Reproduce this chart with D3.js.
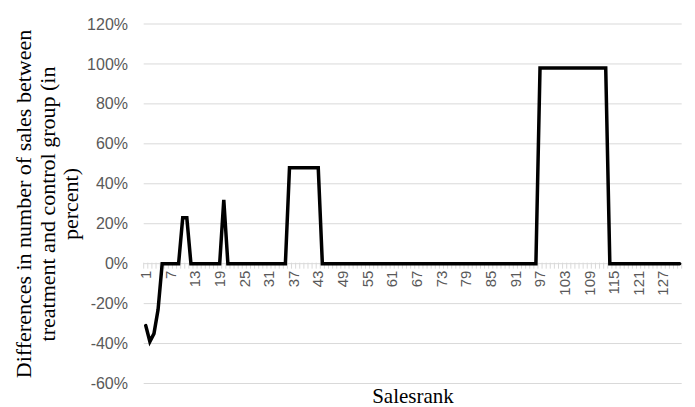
<!DOCTYPE html>
<html>
<head>
<meta charset="utf-8">
<script src="https://cdn.jsdelivr.net/npm/d3@7"></script>
<style>
html,body{margin:0;padding:0;background:#fff;}
svg{display:block;}
</style>
</head>
<body>
<svg id="chart" width="695" height="407"></svg>
<script>
// Sales rank categories 1..131
const salesranks = d3.range(1, 132);
// Differences in % between treatment and control group, per salesrank
const differences = [
  -31, -39, -35, -23, 0, 0, 0, 0, 0, 23,
  23, 0, 0, 0, 0, 0, 0, 0, 0, 32,
  0, 0, 0, 0, 0, 0, 0, 0, 0, 0,
  0, 0, 0, 0, 0, 48, 48, 48, 48, 48,
  48, 48, 48, 0, 0, 0, 0, 0, 0, 0,
  0, 0, 0, 0, 0, 0, 0, 0, 0, 0,
  0, 0, 0, 0, 0, 0, 0, 0, 0, 0,
  0, 0, 0, 0, 0, 0, 0, 0, 0, 0,
  0, 0, 0, 0, 0, 0, 0, 0, 0, 0,
  0, 0, 0, 0, 0, 0, 98, 98, 98, 98,
  98, 98, 98, 98, 98, 98, 98, 98, 98, 98,
  98, 98, 98, 0, 0, 0, 0, 0, 0, 0,
  0, 0, 0, 0, 0, 0, 0, 0, 0, 0,
  0
];
const yTicks = [-60, -40, -20, 0, 20, 40, 60, 80, 100, 120];
const xTickLabels = [1, 7, 13, 19, 25, 31, 37, 43, 49, 55, 61, 67, 73, 79, 85, 91, 97, 103, 109, 115, 121, 127];
const yTitleLines = ["Differences in number of sales between", "treatment and control group (in", "percent)"];
const xTitle = "Salesrank";

(function () {
const svg = d3.select("#chart");
const pLeft = 143.7, pRight = 681.7, pTop = 24, pBottom = 383.5;

const x = d3.scaleBand().domain(salesranks).range([pLeft, pRight]).paddingInner(0).paddingOuter(0);
const y = d3.scaleLinear().domain([-60, 120]).range([pBottom, pTop]);
const cx = d => x(d) + x.bandwidth() / 2;

const labelFont = "Liberation Sans, Arial, sans-serif";
const grey = "#595959";

// gridlines
svg.append("g").selectAll("line").data(yTicks.filter(t => t !== 0)).join("line")
  .attr("x1", pLeft).attr("x2", pRight)
  .attr("y1", d => y(d)).attr("y2", d => y(d))
  .attr("stroke", "#d9d9d9").attr("stroke-width", 1);

// y tick labels
svg.append("g").selectAll("text").data(yTicks).join("text")
  .attr("x", 128).attr("y", d => y(d))
  .attr("dy", "0.35em")
  .attr("text-anchor", "end")
  .attr("font-family", labelFont).attr("font-size", 16)
  .attr("fill", grey)
  .text(d => d + "%");

// category axis at 0
const y0 = y(0);
svg.append("line").attr("x1", pLeft).attr("x2", pRight).attr("y1", y0).attr("y2", y0)
  .attr("stroke", "#d9d9d9").attr("stroke-width", 1);
const boundaries = salesranks.map(d => x(d)).concat([pRight]);
svg.append("g").selectAll("line").data(boundaries).join("line")
  .attr("x1", d => d).attr("x2", d => d)
  .attr("y1", y0 - 1).attr("y2", y0 + 5)
  .attr("stroke", "#d9d9d9").attr("stroke-width", 1);

// x tick labels (rotated)
svg.append("g").selectAll("text").data(xTickLabels).join("text")
  .attr("transform", d => `translate(${cx(d)},${y0 + 7}) rotate(-90)`)
  .attr("dy", "0.35em")
  .attr("text-anchor", "end")
  .attr("font-family", labelFont).attr("font-size", 15)
  .attr("fill", grey)
  .text(d => d);

// data line
const line = d3.line().x((d, i) => cx(salesranks[i])).y(d => y(d));
svg.append("path").datum(differences)
  .attr("d", line)
  .attr("fill", "none").attr("stroke", "#000").attr("stroke-width", 3.5)
  .attr("stroke-linejoin", "miter").attr("stroke-linecap", "round");

// y title
const serif = "Liberation Serif, Times New Roman, serif";
const yt = svg.append("text")
  .attr("transform", "translate(31,204) rotate(-90)")
  .attr("text-anchor", "middle")
  .attr("font-family", serif).attr("font-size", 22)
  .attr("fill", "#000");
yt.selectAll("tspan").data(yTitleLines).join("tspan")
  .attr("x", 0).attr("dy", (d, i) => i === 0 ? 0 : 23.5)
  .text(d => d);

// x title
svg.append("text")
  .attr("x", 413).attr("y", 403)
  .attr("text-anchor", "middle")
  .attr("font-family", serif).attr("font-size", 21)
  .attr("fill", "#000")
  .text(xTitle);
})();
</script>
</body>
</html>
